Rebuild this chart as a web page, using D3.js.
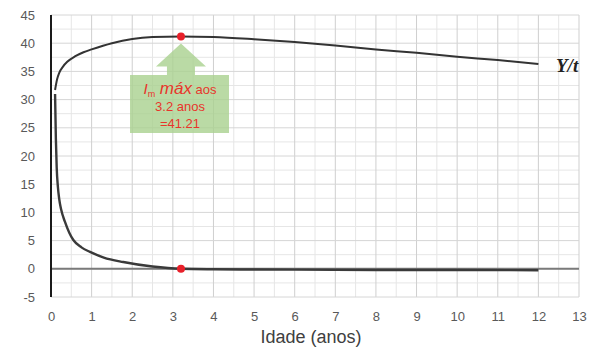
<!DOCTYPE html>
<html><head><meta charset="utf-8">
<script src="https://cdn.jsdelivr.net/npm/d3@7"></script>
<style>body{margin:0;background:#fff}svg{display:block}</style>
</head><body><svg id="c" width="592" height="347"></svg>
<script>
const xTicks = [0,1,2,3,4,5,6,7,8,9,10,11,12,13];
const yTicks = [-5,0,5,10,15,20,25,30,35,40,45];
const upperX = [0.1,0.15,0.2,0.3,0.4,0.6,0.8,1,1.5,2,2.5,3.2,4,5,6,7,8,9,10,11,12];
const upperY = [31.7,33.6,34.7,35.9,36.7,37.7,38.4,38.9,40.0,40.75,41.1,41.21,41.1,40.7,40.2,39.6,38.9,38.3,37.6,37.0,36.3];
const lowerX = [0.1,0.12,0.14,0.17,0.2,0.25,0.34,0.45,0.55,0.75,0.96,1.3,1.78,2.5,3.2,4,6,8,10,12];
const lowerY = [31.0,23,18,14.5,12.5,10.5,8.4,6.4,5.1,3.8,3.0,2.0,1.2,0.4,0,-0.08,-0.15,-0.2,-0.22,-0.25];
const peakX = 3.2, peakY = 41.21;
const seriesLabel = "Y/t";
const xTitle = "Idade (anos)";

const svg = d3.select("#c");
const x = d3.scaleLinear().domain([0,13]).range([51,579]);
const y = d3.scaleLinear().domain([-5,45]).range([297,15]);

// minor grid
const g = svg.append("g");
g.selectAll(".mvx").data(d3.range(0.5,13,1)).join("line")
  .attr("x1",d=>x(d)).attr("x2",d=>x(d)).attr("y1",y(-5)).attr("y2",y(45))
  .attr("stroke","#e6e6e6").attr("stroke-width",1);
g.selectAll(".mhy").data(d3.range(-2.5,45,5)).join("line")
  .attr("x1",x(0)).attr("x2",x(13)).attr("y1",d=>y(d)).attr("y2",d=>y(d))
  .attr("stroke","#e6e6e6").attr("stroke-width",1);
// major grid
g.selectAll(".vx").data(xTicks.slice(1)).join("line")
  .attr("x1",d=>x(d)).attr("x2",d=>x(d)).attr("y1",y(-5)).attr("y2",y(45))
  .attr("stroke","#cfcfcf").attr("stroke-width",1);
g.selectAll(".hy").data(yTicks).join("line")
  .attr("x1",x(0)).attr("x2",x(13)).attr("y1",d=>y(d)).attr("y2",d=>y(d))
  .attr("stroke","#d6d6d6").attr("stroke-width",1);

// axes
const fmt = d => String(d);
const xa = svg.append("g").attr("transform",`translate(0,${y(-5)+24})`)
  .call(d3.axisBottom(x).tickValues(xTicks).tickFormat(fmt).tickSize(0).tickPadding(0));
xa.select(".domain").remove();
xa.selectAll("text").attr("fill","#595959").attr("font-family","Liberation Sans, Arial").attr("font-size","13px").attr("dy","0");
const ya = svg.append("g").attr("transform",`translate(${x(0)-16},0)`)
  .call(d3.axisLeft(y).tickValues(yTicks).tickFormat(fmt).tickSize(0).tickPadding(0));
ya.select(".domain").remove();
ya.selectAll("text").attr("fill","#595959").attr("font-family","Liberation Sans, Arial").attr("font-size","13px");

// zero line
svg.append("line").attr("x1",x(0)).attr("x2",x(13)).attr("y1",y(0)).attr("y2",y(0))
  .attr("stroke","#7a7a7a").attr("stroke-width",2);
// y axis line
svg.append("line").attr("x1",x(0)).attr("x2",x(0)).attr("y1",y(-5)).attr("y2",y(45))
  .attr("stroke","#1a1a1a").attr("stroke-width",2);

const line = d3.line().x(d=>x(d[0])).y(d=>y(d[1])).curve(d3.curveMonotoneX);
svg.append("path").attr("d",line(d3.zip(upperX,upperY))).attr("fill","none")
  .attr("stroke","#333").attr("stroke-width",2);
svg.append("path").attr("d",line(d3.zip(lowerX,lowerY))).attr("fill","none")
  .attr("stroke","#3a3a3a").attr("stroke-width",2.4);

// callout
const cx = x(peakX);
const tipY = y(peakY)+7;
const pts = [[cx,tipY],[cx+25,tipY+23],[cx+14,tipY+23],[cx+14,75],[229,75],[229,133],[130,133],[130,75],[cx-14,75],[cx-14,tipY+23],[cx-25,tipY+23]];
svg.append("path").attr("d","M"+pts.map(p=>p.join(",")).join("L")+"Z")
  .attr("fill","#a9d18e").attr("opacity",0.8);
const tcol = "#e8352b";
const t1 = svg.append("text").attr("x",180).attr("y",94).attr("text-anchor","middle")
  .attr("fill",tcol).attr("font-family","Liberation Sans, Arial");
t1.append("tspan").attr("font-style","italic").attr("font-size","15px").text("I");
t1.append("tspan").attr("font-size","9px").attr("dy","3").text("m");
t1.append("tspan").attr("font-style","italic").attr("font-size","17px").attr("dy","-3").text(" máx");
t1.append("tspan").attr("font-size","13px").text(" aos");
svg.append("text").attr("x",180).attr("y",111).attr("text-anchor","middle").attr("fill",tcol)
  .attr("font-family","Liberation Sans, Arial").attr("font-size","13px").text("3.2 anos");
svg.append("text").attr("x",180).attr("y",128).attr("text-anchor","middle").attr("fill",tcol)
  .attr("font-family","Liberation Sans, Arial").attr("font-size","13px").text("=41.21");

// red dots
svg.selectAll(".dot").data([[peakX,peakY],[peakX,0]]).join("circle")
  .attr("cx",d=>x(d[0])).attr("cy",d=>y(d[1])).attr("r",4).attr("fill","#e8202a");

svg.append("text").attr("x",556).attr("y",72).attr("fill","#222")
  .attr("font-family","Liberation Serif, Times New Roman").attr("font-style","italic").attr("font-weight","bold")
  .attr("font-size","19px").text(seriesLabel);
svg.append("text").attr("x",311).attr("y",343).attr("text-anchor","middle").attr("fill","#404040")
  .attr("font-family","Liberation Sans, Arial").attr("font-size","18px").text(xTitle);
</script></body></html>
